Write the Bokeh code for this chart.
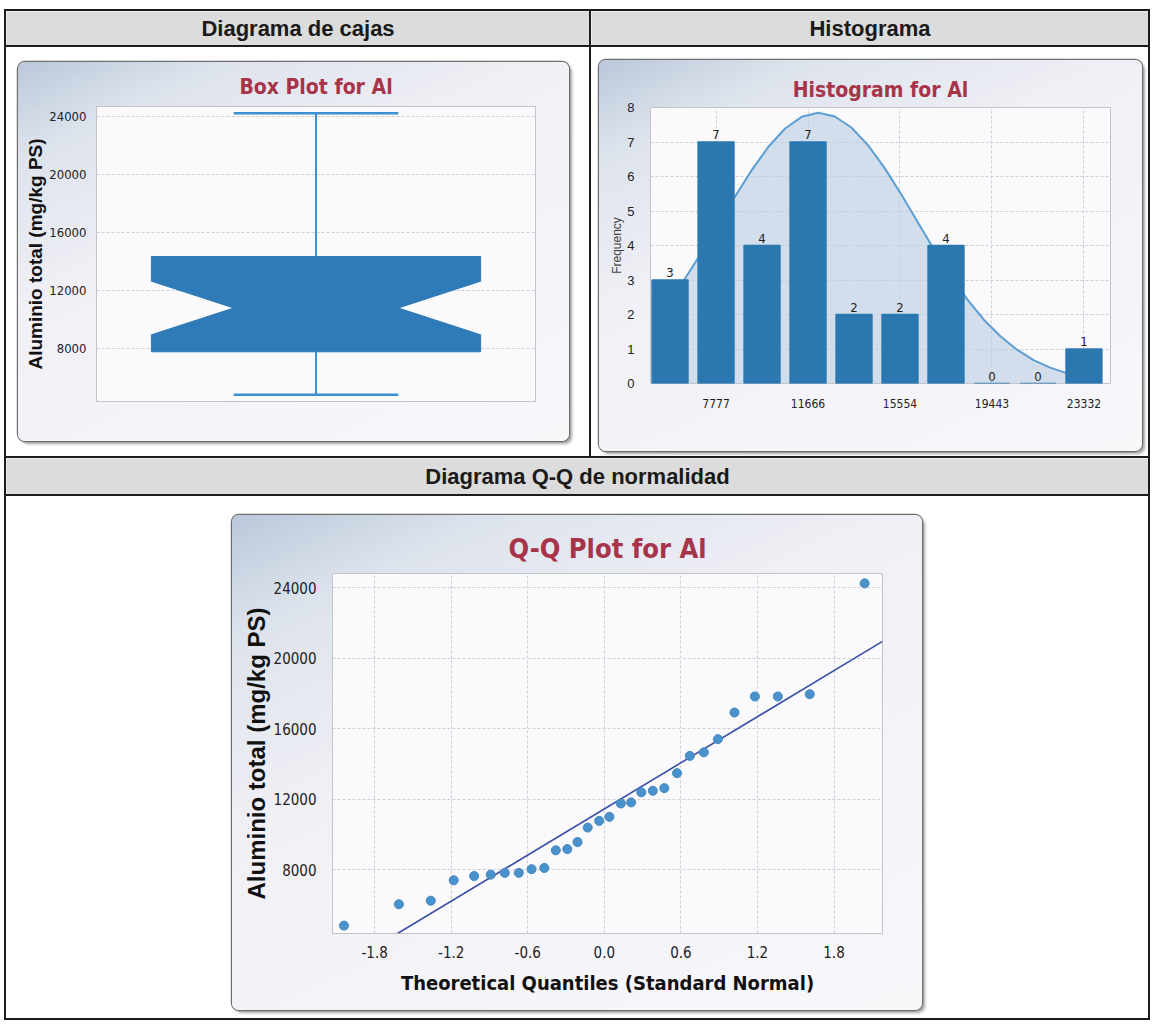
from bokeh.plotting import figure
from bokeh.layouts import column, row
from bokeh.models import Div, Label, FixedTicker, PrintfTickFormatter, Range1d
from bokeh.embed import file_html
from bokeh.resources import INLINE
from bokeh.core.properties import value

# ---------------- data ----------------
header_left = "Diagrama de cajas"
header_right = "Histograma"
header_bottom = "Diagrama Q-Q de normalidad"
variable = "Al"
value_label = "Aluminio total (mg/kg PS)"
qq_x_label = "Theoretical Quantiles (Standard Normal)"
hist_y_label = "Frequency"

# box plot summary
box_min = 4820
box_q1 = 7780
box_notch_low = 8950
box_median = 10800
box_notch_high = 12650
box_q3 = 14350
box_max = 24240
value_ticks = [8000, 12000, 16000, 20000, 24000]

# histogram
hist_bin_centers = [5832, 7777, 9721, 11666, 13610, 15554, 17499, 19443, 21388, 23332]
hist_counts = [3, 7, 4, 7, 2, 2, 4, 0, 0, 1]
hist_tick_values = [7777, 11666, 15554, 19443, 23332]
hist_freq_ticks = [0, 1, 2, 3, 4, 5, 6, 7, 8]
hist_curve_x = [5832, 6500, 7200, 7900, 8600, 9300, 10000, 10700, 11400, 12100,
                12800, 13500, 14200, 14900, 15600, 16300, 17000, 17700, 18400,
                19100, 19800, 20500, 21200, 21900, 22600, 23332]
hist_curve_y = [2.43, 3.08, 3.83, 4.63, 5.44, 6.20, 6.87, 7.39, 7.73, 7.85,
                7.74, 7.42, 6.91, 6.25, 5.49, 4.68, 3.88, 3.12, 2.44,
                1.85, 1.37, 0.98, 0.68, 0.46, 0.30, 0.19]

# Q-Q plot
qq_theoretical = [-2.04, -1.61, -1.36, -1.18, -1.02, -0.89, -0.78, -0.67, -0.57, -0.47,
                  -0.38, -0.29, -0.21, -0.13, -0.04, 0.04, 0.13, 0.21, 0.29, 0.38,
                  0.47, 0.57, 0.67, 0.78, 0.89, 1.02, 1.18, 1.36, 1.61, 2.04]
qq_sample = [4820, 6030, 6230, 7390, 7630, 7710, 7810, 7810, 8020, 8090,
             9090, 9160, 9560, 10380, 10760, 10990, 11750, 11810, 12380, 12470,
             12620, 13470, 14450, 14650, 15400, 16910, 17820, 17820, 17950, 24240]
qq_line_x = [-1.62, 2.18]
qq_line_y = [4370, 20950]
qq_x_ticks = [-1.8, -1.2, -0.6, 0.0, 0.6, 1.2, 1.8]

# ---------------- styles ----------------
SANS = "Liberation Sans"
NARROW = "DejaVu Sans Condensed"
TITLE_RED = "#a8344a"
BOX_BLUE = "#2e7bb8"
WHISKER = "#3b90d0"
BAR_BLUE = "#2b77b0"
LINE_BLACK = "#1c1c1c"
HDR_BG = "#dcdcdc"
PLOT_BG = "#faf9fc"
GRID = "#cfcfd4"
FRAME = "#c4c4c8"
PANEL_STYLES = {
    "border-radius": "7px",
    "box-shadow": "0 0 0 1.2px #6e6e6e, 3px 3px 3px rgba(0,0,0,0.35)",
    "background": "linear-gradient(155deg, #bac8da 0%, #dde3ec 15%, #f1f0f6 40%, #f8f7fa 100%)",
}
TOTAL_W = 1146


def hline(w):
    return Div(text="", width=w, height=2, margin=0, styles={"background-color": LINE_BLACK})


def vline(h):
    return Div(text="", width=2, height=h, margin=0, styles={"background-color": LINE_BLACK})


def header(text, w, h):
    p = figure(width=w, height=h, x_range=Range1d(0, 1), y_range=Range1d(0, 1),
               toolbar_location=None, output_backend="svg", min_border=0,
               x_axis_location=None, y_axis_location=None, frame_align=False,
               border_fill_color=HDR_BG, background_fill_color=HDR_BG,
               outline_line_color=None)
    p.grid.visible = False
    p.add_layout(Label(x=0.5, y=0.5, text=text, text_align="center", text_baseline="middle",
                       text_font=SANS, text_font_size="22px", text_font_style="bold",
                       text_color="#1a1a1a"))
    return p


def style_title(p, size, standoff):
    p.title.align = "center"
    p.title.text_font = NARROW
    p.title.text_font_size = size
    p.title.text_font_style = "bold"
    p.title.text_color = TITLE_RED
    p.title.standoff = standoff


def style_axis(ax):
    ax.axis_line_color = None
    ax.major_tick_line_color = None
    ax.minor_tick_line_color = None


# ---------------- box plot ----------------
p_box = figure(width=551, height=379, x_range=Range1d(0, 1), y_range=Range1d(4350, 24700),
               toolbar_location=None, output_backend="svg", title=f"Box Plot for {variable}",
               x_axis_location=None, frame_align=False,
               min_border_left=78, min_border_right=34, min_border_top=44, min_border_bottom=40,
               border_fill_alpha=0, background_fill_color=PLOT_BG, outline_line_color=FRAME,
               margin=(15, 20, 15, 12), styles=PANEL_STYLES)
style_title(p_box, "21px", 15)
cx, hw, nw = 0.5, 0.375, 0.1875
p_box.segment(x0=[cx, cx], y0=[box_q3, box_q1], x1=[cx, cx], y1=[box_max, box_min],
              line_color=WHISKER, line_width=2)
p_box.segment(x0=[cx - nw, cx - nw], y0=[box_max, box_min], x1=[cx + nw, cx + nw],
              y1=[box_max, box_min], line_color=WHISKER, line_width=2.5)
box_xs = [cx - hw, cx - hw, cx - nw, cx - hw, cx - hw, cx + hw, cx + hw, cx + nw, cx + hw, cx + hw]
box_ys = [box_q1, box_notch_low, box_median, box_notch_high, box_q3,
          box_q3, box_notch_high, box_median, box_notch_low, box_q1]
p_box.patch(box_xs, box_ys, fill_color=BOX_BLUE, line_color=BOX_BLUE)
p_box.yaxis.ticker = FixedTicker(ticks=value_ticks)
p_box.yaxis.formatter = PrintfTickFormatter(format="%d")
p_box.yaxis.axis_label = value_label
p_box.yaxis.axis_label_text_font = SANS
p_box.yaxis.axis_label_text_font_style = "bold"
p_box.yaxis.axis_label_text_font_size = "19px"
p_box.yaxis.axis_label_text_color = "#111111"
p_box.yaxis.axis_label_standoff = 0
p_box.yaxis.major_label_text_font = NARROW
p_box.yaxis.major_label_text_font_size = "13px"
p_box.yaxis.major_label_text_color = "#222222"
p_box.yaxis.major_label_standoff = 4
style_axis(p_box.yaxis)
p_box.xgrid.visible = False
p_box.ygrid.grid_line_color = GRID
p_box.ygrid.grid_line_dash = "3 2"

# ---------------- histogram ----------------
bin_w = hist_bin_centers[1] - hist_bin_centers[0]
p_hist = figure(width=543, height=391, x_range=Range1d(5006, 24454), y_range=Range1d(0, 8),
                toolbar_location=None, output_backend="svg", title=f"Histogram for {variable}",
                frame_align=False,
                min_border_left=51, min_border_right=32, min_border_top=47, min_border_bottom=68,
                border_fill_alpha=0, background_fill_color=PLOT_BG, outline_line_color=FRAME,
                margin=(13, 6, 5, 8), styles=PANEL_STYLES)
style_title(p_hist, "21px", 12)
p_hist.varea(x=hist_curve_x, y1=[0] * len(hist_curve_x), y2=hist_curve_y,
             fill_color="#b9cbe2", fill_alpha=0.6)
p_hist.line(hist_curve_x, hist_curve_y, line_color="#5d9ed2", line_width=2)
p_hist.vbar(x=hist_bin_centers, top=hist_counts, width=bin_w * 0.78,
            fill_color=BAR_BLUE, line_color=BAR_BLUE, line_width=1.5)
p_hist.text(x=hist_bin_centers, y=hist_counts, text=[str(c) for c in hist_counts],
            y_offset=-3, text_align="center", text_baseline="bottom",
            text_font=value(NARROW), text_font_size="13px", text_color="#222222")
p_hist.xaxis.ticker = FixedTicker(ticks=hist_tick_values)
p_hist.xaxis.formatter = PrintfTickFormatter(format="%d")
p_hist.xaxis.major_label_text_font = NARROW
p_hist.xaxis.major_label_text_font_size = "12px"
p_hist.xaxis.major_label_standoff = 9
p_hist.yaxis.ticker = FixedTicker(ticks=hist_freq_ticks)
p_hist.yaxis.major_label_text_font = SANS
p_hist.yaxis.major_label_text_font_size = "13px"
p_hist.yaxis.major_label_standoff = 10
p_hist.yaxis.axis_label = hist_y_label
p_hist.yaxis.axis_label_text_font = SANS
p_hist.yaxis.axis_label_text_font_style = "normal"
p_hist.yaxis.axis_label_text_font_size = "12px"
p_hist.yaxis.axis_label_standoff = 0
for ax in (p_hist.xaxis, p_hist.yaxis):
    style_axis(ax)
    ax.major_label_text_color = "#222222"
p_hist.grid.grid_line_color = GRID
p_hist.grid.grid_line_dash = "3 2"

# ---------------- Q-Q plot ----------------
p_qq = figure(width=690, height=495, x_range=Range1d(-2.13, 2.18), y_range=Range1d(4370, 24800),
              toolbar_location=None, output_backend="svg", title=f"Q-Q Plot for {variable}",
              frame_align=False,
              min_border_left=100, min_border_right=40, min_border_top=58, min_border_bottom=77,
              border_fill_alpha=0, background_fill_color=PLOT_BG, outline_line_color=FRAME,
              margin=(19, 226, 8, 226), styles=PANEL_STYLES)
style_title(p_qq, "27px", 19)
p_qq.line(qq_line_x, qq_line_y, line_color="#3b4fa6", line_width=1.6)
p_qq.scatter(qq_theoretical, qq_sample, size=9, fill_color="#4a92cb", line_color="#4186c0",
             line_width=1)
p_qq.xaxis.ticker = FixedTicker(ticks=qq_x_ticks)
p_qq.xaxis.formatter = PrintfTickFormatter(format="%.1f")
p_qq.xaxis.axis_label = qq_x_label
p_qq.xaxis.axis_label_text_font = NARROW
p_qq.xaxis.axis_label_text_font_size = "20px"
p_qq.xaxis.axis_label_text_font_style = "bold"
p_qq.xaxis.axis_label_standoff = 10
p_qq.xaxis.major_label_standoff = 6
p_qq.yaxis.ticker = FixedTicker(ticks=value_ticks)
p_qq.yaxis.formatter = PrintfTickFormatter(format="%d")
p_qq.yaxis.axis_label = value_label
p_qq.yaxis.axis_label_text_font = SANS
p_qq.yaxis.axis_label_text_font_size = "24px"
p_qq.yaxis.axis_label_text_font_style = "bold"
p_qq.yaxis.axis_label_standoff = 1
p_qq.yaxis.major_label_standoff = 10
for ax in (p_qq.xaxis, p_qq.yaxis):
    style_axis(ax)
    ax.major_label_text_font = NARROW
    ax.major_label_text_font_size = "15px"
    ax.major_label_text_color = "#222222"
    ax.axis_label_text_color = "#111111"
p_qq.grid.grid_line_color = GRID
p_qq.grid.grid_line_dash = "3 2"

# ---------------- layout ----------------
W1, W2 = 583, 557
root = column(
    hline(TOTAL_W),
    row(vline(34), header(header_left, W1, 34), vline(34), header(header_right, W2, 34), vline(34)),
    hline(TOTAL_W),
    row(vline(409), p_box, vline(409), p_hist, vline(409)),
    hline(TOTAL_W),
    row(vline(36), header(header_bottom, TOTAL_W - 4, 36), vline(36)),
    hline(TOTAL_W),
    row(vline(522), p_qq, vline(522)),
    hline(TOTAL_W),
    margin=(9, 0, 0, 4),
)

open("out.html", "w").write(file_html(root, INLINE))
